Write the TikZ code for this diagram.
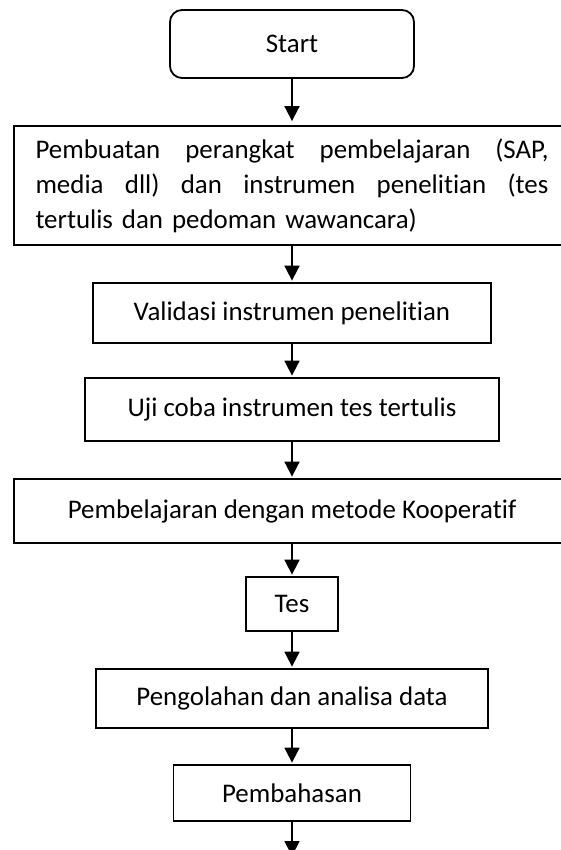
\documentclass[tikz,border=0pt]{standalone}
\usepackage{fontspec}
\setmainfont[Ligatures={NoCommon}]{Carlito}
\usetikzlibrary{arrows.meta}
\begin{document}
\begin{tikzpicture}[x=1pt,y=-1pt,
  every node/.style={font=\fontsize{26.9}{35}\selectfont},
  boxstyle/.style={draw=black,line width=1.8pt,inner sep=0pt,align=center},
  conn/.style={line width=1.8pt,-{Triangle[width=15pt,length=15pt]},shorten >=1.5pt}]
\path[use as bounding box,fill=white] (0,0) rectangle (560,850);
\node[boxstyle,rounded corners=12pt,minimum width=244pt,minimum height=68pt] (start) at (292,44) {Start};
\node[boxstyle,minimum width=556pt,minimum height=119pt,align=left,text width=513pt] (b1) at (292,185.5)
  {\leavevmode\hbox to 513pt{Pembuatan\hfill perangkat\hfill pembelajaran\hfill (SAP,}\\
   \leavevmode\hbox to 513pt{media\hfill dll)\hfill dan\hfill instrumen\hfill penelitian\hfill (tes}\\
   tertulis dan pedoman wawancara)};
\node[boxstyle,minimum width=398pt,minimum height=60pt] (val) at (292,313) {Validasi instrumen penelitian};
\node[boxstyle,minimum width=414pt,minimum height=63pt] (uji) at (292,409.5) {Uji coba instrumen tes tertulis};
\node[boxstyle,minimum width=556pt,minimum height=64pt] (pem) at (292,511) {Pembelajaran dengan metode Kooperatif};
\node[boxstyle,minimum width=92pt,minimum height=54pt] (tes) at (292,604) {Tes};
\node[boxstyle,minimum width=392pt,minimum height=59pt] (peng) at (292,698.5) {Pengolahan dan analisa data};
\node[boxstyle,minimum width=237pt,minimum height=56pt] (bahas) at (292,793) {Pembahasan};
\coordinate (endpt) at (292,856);
\draw[conn,shorten >=4pt] (start.south) -- (b1.north);
\draw[conn] (b1.south) -- (val.north);
\draw[conn] (val.south) -- (uji.north);
\draw[conn] (uji.south) -- (pem.north);
\draw[conn] (pem.south) -- (tes.north);
\draw[conn] (tes.south) -- (peng.north);
\draw[conn] (peng.south) -- (bahas.north);
\draw[conn,shorten >=0pt] (bahas.south) -- (endpt);
\end{tikzpicture}
\end{document}
